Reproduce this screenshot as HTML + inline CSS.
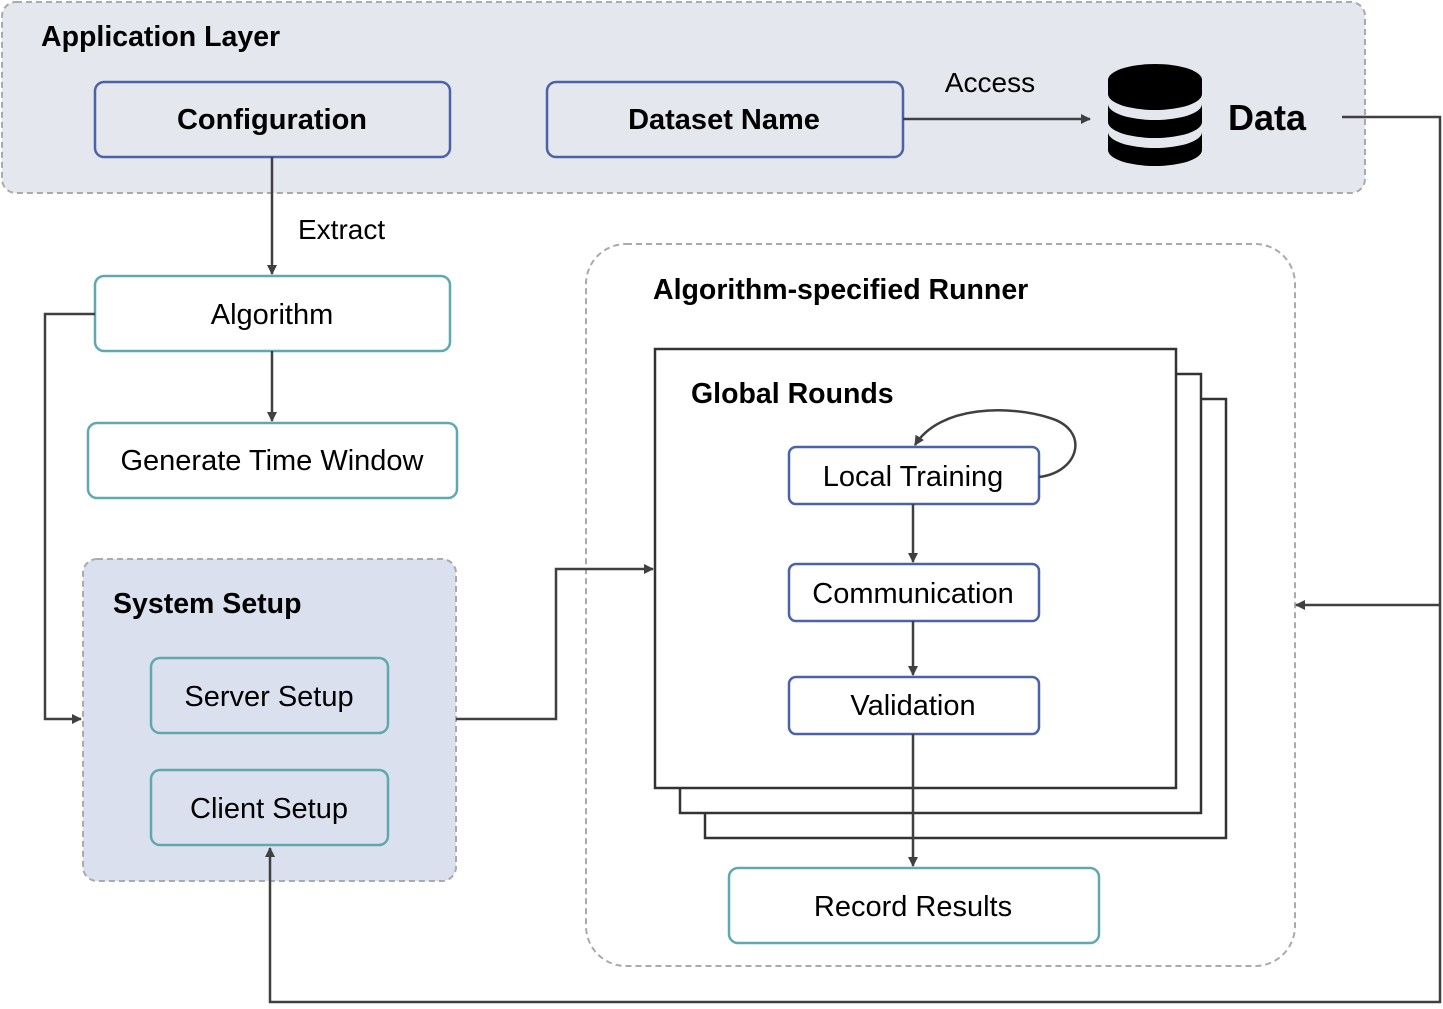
<!DOCTYPE html>
<html><head><meta charset="utf-8"><style>
html,body{margin:0;padding:0;background:#fff;}
text{font-family:"Liberation Sans",Arial,sans-serif;fill:#000;}
</style></head><body>
<svg width="1443" height="1004" viewBox="0 0 1443 1004" xmlns="http://www.w3.org/2000/svg">
<defs>
<marker id="a" markerWidth="10" markerHeight="10" refX="9" refY="5" orient="auto" markerUnits="userSpaceOnUse">
<path d="M0,0 L10,5 L0,10 Z" fill="#404040"/></marker>
</defs>
<!-- Application layer -->
<rect x="2" y="2" width="1363" height="191" rx="14" fill="#e4e7ed" stroke="#aaa" stroke-width="2" stroke-dasharray="6,4"/>
<text x="41" y="46" font-size="28.5" font-weight="bold">Application Layer</text>
<rect x="95" y="82" width="355" height="75" rx="9" fill="#e4e7ed" stroke="#4a62a8" stroke-width="2.5"/>
<text x="272" y="129" font-size="29" font-weight="bold" text-anchor="middle">Configuration</text>
<rect x="547" y="82" width="356" height="75" rx="9" fill="#e4e7ed" stroke="#4a62a8" stroke-width="2.5"/>
<text x="724" y="129" font-size="29" font-weight="bold" text-anchor="middle">Dataset Name</text>
<line x1="903" y1="119" x2="1090" y2="119" stroke="#404040" stroke-width="2.5" marker-end="url(#a)"/>
<text x="990" y="92" font-size="28" text-anchor="middle">Access</text>
<!-- database -->
<g fill="#000">
<path d="M1108,80 a47,16 0 0 1 94,0 v14 a47,16 0 0 1 -94,0 z"/>
<path d="M1108,104 a47,16 0 0 0 94,0 v18 a47,16 0 0 1 -94,0 z"/>
<path d="M1108,132 a47,16 0 0 0 94,0 v18 a47,16 0 0 1 -94,0 z"/>
</g>
<text x="1228" y="130" font-size="36" font-weight="bold">Data</text>
<!-- left column -->
<text x="298" y="239" font-size="28">Extract</text>
<rect x="95" y="276" width="355" height="75" rx="9" fill="#fff" stroke="#5fa8b0" stroke-width="2.5"/>
<text x="272" y="324" font-size="29" text-anchor="middle">Algorithm</text>
<rect x="88" y="423" width="369" height="75" rx="9" fill="#fff" stroke="#5fa8b0" stroke-width="2.5"/>
<text x="272" y="470" font-size="29" text-anchor="middle">Generate Time Window</text>
<rect x="83" y="559" width="373" height="322" rx="14" fill="#dbe0ee" stroke="#aaa" stroke-width="2" stroke-dasharray="6,4"/>
<text x="113" y="613" font-size="28.5" font-weight="bold">System Setup</text>
<rect x="151" y="658" width="237" height="75" rx="9" fill="#dbe0ee" stroke="#5fa8b0" stroke-width="2.5"/>
<text x="269" y="706" font-size="29" text-anchor="middle">Server Setup</text>
<rect x="151" y="770" width="237" height="75" rx="9" fill="#dbe0ee" stroke="#5fa8b0" stroke-width="2.5"/>
<text x="269" y="818" font-size="29" text-anchor="middle">Client Setup</text>
<!-- runner -->
<rect x="586" y="244" width="709" height="722" rx="40" fill="#fff" stroke="#aaa" stroke-width="2" stroke-dasharray="6,4"/>
<text x="653" y="299" font-size="28.5" font-weight="bold">Algorithm-specified Runner</text>
<rect x="705" y="399" width="521" height="439" fill="#fff" stroke="#333" stroke-width="2.5"/>
<rect x="680" y="374" width="521" height="439" fill="#fff" stroke="#333" stroke-width="2.5"/>
<rect x="655" y="349" width="521" height="439" fill="#fff" stroke="#333" stroke-width="2.5"/>
<text x="691" y="403" font-size="28.5" font-weight="bold">Global Rounds</text>
<rect x="789" y="447" width="250" height="57" rx="7" fill="#fff" stroke="#4a62a8" stroke-width="2.5"/>
<text x="913" y="486" font-size="29" text-anchor="middle">Local Training</text>
<rect x="789" y="564" width="250" height="57" rx="7" fill="#fff" stroke="#4a62a8" stroke-width="2.5"/>
<text x="913" y="603" font-size="29" text-anchor="middle">Communication</text>
<rect x="789" y="677" width="250" height="57" rx="7" fill="#fff" stroke="#4a62a8" stroke-width="2.5"/>
<text x="913" y="715" font-size="29" text-anchor="middle">Validation</text>
<rect x="729" y="868" width="370" height="75" rx="9" fill="#fff" stroke="#5fa8b0" stroke-width="2.5"/>
<text x="913" y="916" font-size="29" text-anchor="middle">Record Results</text>
<!-- connectors -->
<g fill="none" stroke="#404040" stroke-width="2.5">
<polyline points="1342,117 1440,117 1440,1002 270,1002 270,848" marker-end="url(#a)"/>
<line x1="1440" y1="605" x2="1296" y2="605" marker-end="url(#a)"/>
<line x1="272" y1="157" x2="272" y2="274" marker-end="url(#a)"/>
<line x1="272" y1="351" x2="272" y2="421" marker-end="url(#a)"/>
<polyline points="95,314 45,314 45,719 81,719" marker-end="url(#a)"/>
<polyline points="456,719 556,719 556,569 653,569" marker-end="url(#a)"/>
<path d="M1039,477 C1080,472 1090,430 1050,418 C1010,405 940,405 915,445" marker-end="url(#a)"/>
<line x1="913" y1="504" x2="913" y2="562" marker-end="url(#a)"/>
<line x1="913" y1="621" x2="913" y2="675" marker-end="url(#a)"/>
<line x1="913" y1="734" x2="913" y2="866" marker-end="url(#a)"/>
</g>
</svg>
</body></html>
